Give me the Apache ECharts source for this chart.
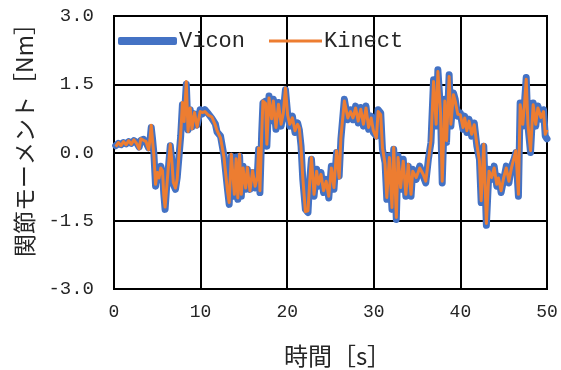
<!DOCTYPE html>
<html><head><meta charset="utf-8">
<script src="https://cdn.jsdelivr.net/npm/echarts@6/dist/echarts.min.js"></script>
<style>html,body{margin:0;padding:0;background:#fff}#c{width:561px;height:370px}</style>
</head><body><div id="c"></div>
<script>
const time = [0.2,0.5,0.8,1.1,1.4,1.7,2.0,2.3,2.6,2.9,3.1,3.4,3.7,4.0,4.15,4.3,4.45,4.6,4.8,5.0,5.2,5.4,5.6,5.75,5.9,6.1,6.3,6.5,6.7,6.85,7.1,7.3,7.5,7.7,7.9,8.1,8.35,8.55,8.8,9.0,9.3,9.6,9.95,10.2,10.5,10.9,11.3,11.7,11.9,12.3,12.7,13.1,13.3,13.55,13.9,14.1,14.3,14.5,14.7,14.9,15.2,15.4,15.7,16.0,16.3,16.55,16.7,16.85,17.05,17.2,17.5,17.65,17.9,18.2,18.4,18.7,19.0,19.3,19.55,19.8,20.05,20.3,20.6,20.9,21.2,21.4,21.6,21.8,22.1,22.4,22.6,22.8,23.1,23.4,23.6,23.9,24.2,24.5,24.8,25.1,25.4,25.7,26.0,26.2,26.6,26.8,27.0,27.3,27.6,27.9,28.2,28.5,28.8,29.1,29.4,29.7,29.95,30.3,30.5,30.8,31.0,31.3,31.5,31.8,32.1,32.3,32.6,32.8,33.1,33.4,33.7,33.98,34.3,34.5,34.9,35.3,35.7,36.0,36.3,36.6,36.9,37.2,37.4,37.7,37.9,38.2,38.4,38.7,38.9,39.2,39.4,39.7,39.99,40.3,40.5,40.75,41.0,41.3,41.6,41.9,42.2,42.4,42.7,43.0,43.3,43.6,43.9,44.2,44.4,44.7,45.0,45.3,45.6,45.9,46.2,46.4,46.7,46.9,47.2,47.4,47.6,47.8,48.1,48.4,48.7,48.95,49.3,49.6,49.8,50.0];
const vicon = [0.15,0.2,0.17,0.22,0.19,0.24,0.2,0.26,0.22,0.12,0.27,0.29,0.22,0.1,0.25,0.55,0.3,0.0,-0.74,-0.4,-0.6,-0.3,-0.45,-0.9,-1.25,-0.7,-0.3,0.15,-0.2,-0.7,-0.81,-0.55,-0.1,0.36,1.05,0.72,1.5,0.5,0.94,0.56,0.85,0.6,0.94,0.85,0.94,0.85,0.75,0.63,0.45,0.36,-0.07,-0.8,-1.14,-0.08,-0.96,-0.1,-1.03,-0.08,-0.96,-0.3,-0.81,-0.37,-0.81,-0.44,-0.78,-0.5,0.07,-0.88,0.4,1.09,1.13,0.14,1.24,0.7,1.17,0.51,1.1,0.58,0.9,1.38,0.85,0.58,0.8,0.44,0.65,0.5,0.14,-0.59,-1.25,-1.32,-0.6,-0.15,-0.96,-0.37,-0.74,-0.44,-0.88,-0.59,-1.0,-0.3,-0.81,0.0,-0.52,0.29,1.17,1.13,0.72,0.94,0.72,1.02,0.65,0.99,0.58,1.02,0.51,0.8,0.44,0.36,0.94,0.87,0.07,-0.22,-1.03,-0.07,-1.25,0.07,-1.47,-0.07,-0.81,-0.15,-0.96,-0.3,-0.96,-0.37,-0.59,-0.3,-0.52,-0.67,-0.15,0.22,1.6,0.58,1.82,0.94,-0.67,1.17,0.22,1.71,0.58,1.31,1.17,0.8,0.87,0.51,0.8,0.44,0.73,0.36,0.65,0.14,-0.15,-1.1,0.14,-1.6,-0.37,-0.59,-0.3,-0.74,-0.52,-0.88,-0.59,-0.3,-0.67,-0.3,-0.15,0.0,-0.96,1.09,0.58,1.09,1.65,0.58,0.0,1.09,0.58,1.02,0.73,0.94,0.36,0.3];
const kinect = [0.13,0.22,0.15,0.24,0.17,0.26,0.18,0.28,0.2,0.08,0.3,0.27,0.24,0.06,0.28,0.6,0.26,-0.05,-0.7,-0.44,-0.56,-0.34,-0.4,-0.95,-1.2,-0.74,-0.26,0.18,-0.24,-0.66,-0.78,-0.58,-0.06,0.4,1.1,0.68,1.56,0.46,0.98,0.52,0.88,0.56,0.9,0.88,0.9,0.82,0.78,0.6,0.48,0.32,-0.1,-0.84,-1.1,-0.04,-0.92,-0.14,-1.0,-0.04,-0.92,-0.34,-0.78,-0.33,-0.84,-0.4,-0.74,-0.54,0.1,-0.84,0.36,1.13,1.08,0.18,1.2,0.74,1.13,0.55,1.06,0.62,0.86,1.42,0.82,0.62,0.76,0.48,0.62,0.54,0.1,-0.55,-1.3,-1.28,-0.64,-0.11,-0.92,-0.41,-0.7,-0.48,-0.84,-0.63,-0.96,-0.34,-0.77,0.04,-0.56,0.33,1.13,1.09,0.76,0.9,0.76,0.98,0.69,0.95,0.62,0.98,0.55,0.76,0.48,0.32,0.9,0.83,0.11,-0.26,-0.99,-0.11,-1.21,0.11,-1.43,-0.11,-0.77,-0.19,-0.92,-0.26,-0.92,-0.41,-0.55,-0.34,-0.48,-0.63,-0.19,0.26,1.56,0.62,1.78,0.9,-0.63,1.13,0.26,1.67,0.62,1.27,1.13,0.84,0.83,0.55,0.76,0.48,0.69,0.4,0.61,0.18,-0.19,-1.06,0.18,-1.56,-0.41,-0.55,-0.34,-0.7,-0.56,-0.84,-0.55,-0.34,-0.63,-0.34,-0.11,0.04,-0.92,1.05,0.62,1.05,1.61,0.62,0.04,1.05,0.62,0.98,0.77,0.9,0.4,0.5];
const xTicks = {min: 0, max: 50, interval: 10};
const yTicks = {min: -3, max: 3, interval: 1.5};
const xName = '時間［s］';
const yName = '関節モーメント［Nm］';
const seriesNames = ['Vicon', 'Kinect'];

const chart = echarts.init(document.getElementById('c'), null, {renderer: 'canvas'});
const mono = '"Liberation Mono", monospace';
const cjk = '"Noto Sans CJK JP", sans-serif';
const legendText = {fontFamily: mono, fontSize: 22, color: '#262626', padding: [0,0,0,-3]};
chart.setOption({
  backgroundColor: '#fff',
  animation: false,
  grid: {left: 114, right: 14, top: 16, bottom: 81, show: true, borderColor: '#000', borderWidth: 2,
         backgroundColor: 'transparent', outerBoundsMode: 'none', containLabel: false},
  legend: [
    {left: 118, top: 30, padding: 0, itemWidth: 59, itemHeight: 8, itemGap: 2, icon: 'roundRect',
     textStyle: legendText, data: [seriesNames[0]]},
    {left: 269, top: 30, padding: 0, itemWidth: 53, itemHeight: 3, itemGap: 2, icon: 'rect',
     textStyle: legendText, data: [seriesNames[1]]}
  ],
  xAxis: {
    type: 'value', min: xTicks.min, max: xTicks.max, interval: xTicks.interval,
    axisLine: {show: true, lineStyle: {color: '#000', width: 2}},
    axisTick: {show: false},
    splitLine: {show: true, lineStyle: {color: '#000', width: 2}},
    axisLabel: {fontFamily: mono, fontSize: 18, color: '#262626', margin: 14},
    name: xName, nameLocation: 'middle', nameGap: 55,
    nameTextStyle: {fontFamily: cjk, fontSize: 24, color: '#262626', padding: [0,0,0,14]}
  },
  yAxis: {
    type: 'value', min: yTicks.min, max: yTicks.max, interval: yTicks.interval,
    axisLine: {show: true, lineStyle: {color: '#000', width: 2}},
    axisTick: {show: false},
    splitLine: {show: true, lineStyle: {color: '#000', width: 2}},
    axisLabel: {fontFamily: mono, fontSize: 19, color: '#262626', margin: 20, formatter: v => v.toFixed(1)},
    name: yName, nameLocation: 'middle', nameGap: 78, nameRotate: 90,
    nameTextStyle: {fontFamily: cjk, fontSize: 23, color: '#262626', padding: [0,0,0,36]}
  },
  series: [
    {name: seriesNames[0], type: 'line', showSymbol: false, symbol: 'none',
     data: time.map((t, i) => [t, vicon[i]]),
     lineStyle: {color: '#4472C4', width: 7, cap: 'round', join: 'round'}, itemStyle: {color: '#4472C4'}},
    {name: seriesNames[1], type: 'line', showSymbol: false, symbol: 'none',
     data: time.map((t, i) => [t, kinect[i]]),
     lineStyle: {color: '#ED7D31', width: 3, join: 'round'}, itemStyle: {color: '#ED7D31'}}
  ]
});
</script></body></html>
